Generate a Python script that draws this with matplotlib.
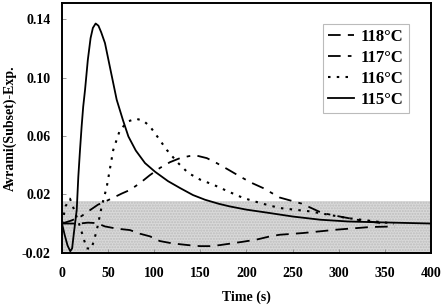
import numpy as np
from matplotlib import pyplot as plt

plt.rcParams['font.family'] = ['Liberation Serif', 'DejaVu Serif']
plt.rcParams['font.weight'] = 'bold'

# 115 C (solid)
t115 = [0, 3, 6, 9, 11, 13, 16, 17.7, 19.5, 21.3, 23, 25, 28, 31, 33.5, 36.5, 39.5, 42.5, 46.6, 53,
        59.3, 66, 72, 80, 90, 100.8, 115, 128, 142, 155, 170, 182, 200, 225, 250, 280, 310, 345, 400]
v115 = [0, -0.008, -0.015, -0.019, -0.017, -0.006, 0.0094, 0.032, 0.050, 0.0665, 0.080, 0.0916,
        0.112, 0.127, 0.134, 0.137, 0.1355, 0.131, 0.1236, 0.104, 0.0848, 0.071, 0.0596, 0.050,
        0.0414, 0.0355, 0.029, 0.0243, 0.0195, 0.0163, 0.0135, 0.0117, 0.0095, 0.0072, 0.0048,
        0.0026, 0.0014, 0.0008, 0.0]

# 116 C (dotted)
t116 = [0, 4, 8.7, 14, 19.5, 26.7, 32, 37.6, 43, 48.5, 55.6, 62.9, 71.9, 80, 88, 95.4, 104, 113.5,
        125, 136.9, 150, 164, 180, 196.5, 215, 236, 269, 308.6, 345, 360]
v116 = [0, 0.012, 0.017, 0.008, -0.002, -0.017, -0.0173, -0.005, 0.0115, 0.025, 0.0505, 0.0642,
        0.070, 0.0718, 0.0705, 0.0665, 0.059, 0.0505, 0.042, 0.0346, 0.030, 0.0266, 0.022, 0.0175,
        0.014, 0.0106, 0.0083, 0.0038, 0.001, 0.0]

# 117 C (dash-dot)
t117 = [0, 10, 21, 30, 39, 46.6, 55, 64.7, 73.7, 84.6, 95, 106, 117, 128, 138, 146, 157, 167.7,
        180, 193, 205, 218, 236, 260, 282, 303.5, 325, 350]
v117 = [0, 0.002, 0.005, 0.009, 0.0129, 0.015, 0.0175, 0.0205, 0.023, 0.0277, 0.033, 0.038, 0.042,
        0.0448, 0.0462, 0.0465, 0.0448, 0.0414, 0.037, 0.0322, 0.028, 0.0243, 0.0178, 0.0136, 0.0072,
        0.0045, 0.002, 0.0]

# 118 C (dashed)
t118 = [0, 10, 19.5, 28, 37.6, 46.6, 59.3, 73.7, 84.6, 95.4, 106, 117, 128, 140, 149.6, 160, 171,
        182, 196, 211, 225.5, 236, 261.6, 297.8, 334, 361]
v118 = [0, 0, 0, 0.0006, 0.0003, -0.002, -0.0035, -0.0045, -0.007, -0.0088, -0.012, -0.0133,
        -0.0142, -0.015, -0.0155, -0.0155, -0.0148, -0.0138, -0.0125, -0.011, -0.0088, -0.0077,
        -0.0065, -0.0042, -0.0024, -0.002]

yticks = [0.14, 0.10, 0.06, 0.02, -0.02]
ytick_labels = ['0.14', '0.10', '0.06', '0.02', '-0.02']
xticks = [0, 50, 100, 150, 200, 250, 300, 350, 400]

fig = plt.figure(figsize=(4.44, 3.08), dpi=100)
ax = fig.add_axes([0.1396, 0.1795, 0.8311, 0.8105])

# shaded band
ax.axhspan(-0.02, 0.0155, facecolor='#d9d9d9', edgecolor='#bdbdbd', hatch='......', lw=0, zorder=0)

ax.plot(t118, v118, color='black', lw=1.3, dashes=(7, 4), label='118\u00b0C')
ax.plot(t117, v117, color='black', lw=1.3, dashes=(7, 4, 2, 4), label='117\u00b0C')
ax.plot(t116, v116, color='black', lw=1.5, dashes=(1.2, 3), label='116\u00b0C')
ax.plot(t115, v115, color='black', lw=1.3, label='115\u00b0C')

ax.set_xlim(0, 400)
ax.set_ylim(-0.02, 0.151)
ax.set_xticks(xticks)
ax.set_xticklabels([str(x) for x in xticks], fontsize=10, fontweight='bold')
ax.set_yticks(yticks)
ax.set_yticklabels(ytick_labels, fontsize=10, fontweight='bold')
ax.tick_params(axis='both', direction='in', length=3, width=0.6, pad=10, color='#888888')
ax.tick_params(axis='y', pad=8)
for s in ax.spines.values():
    s.set_linewidth(1.4)

ax.set_xlabel('Time (s)', fontsize=10, fontweight='bold', labelpad=8)
ax.set_ylabel('Avrami(Subset)-Exp.', fontsize=10, fontweight='bold', labelpad=4)

leg = ax.legend(loc='upper right', bbox_to_anchor=(0.962, 0.95), fontsize=12, frameon=True,
                fancybox=False, edgecolor='#aaaaaa', handlelength=1.6, handletextpad=0.4,
                borderpad=0.3, labelspacing=0.3, borderaxespad=0.5)
leg.get_frame().set_linewidth(0.8)

fig.savefig('out.png', dpi=100)
